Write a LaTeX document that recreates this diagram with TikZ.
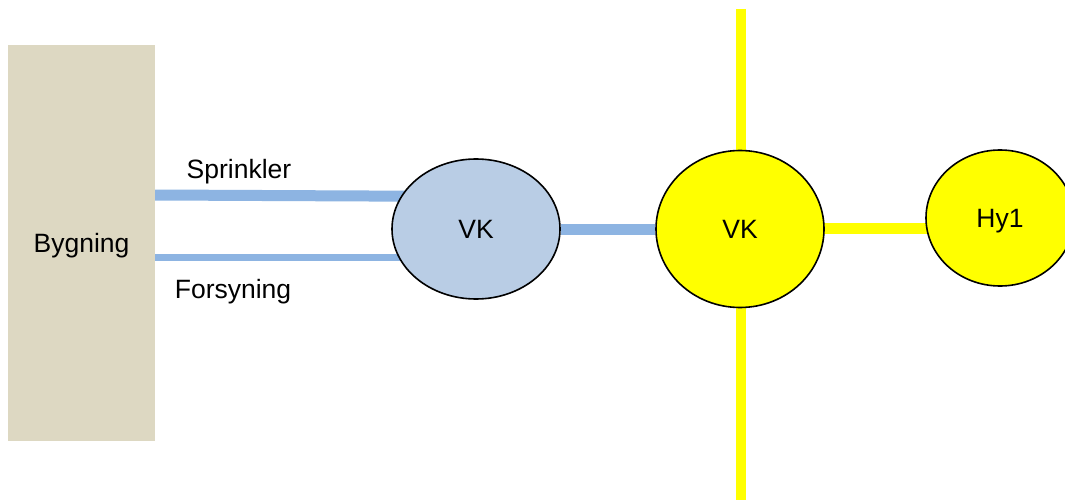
\documentclass[tikz,border=0pt]{standalone}
\usepackage{fontspec}
\setmainfont{Liberation Sans}
\usetikzlibrary{shapes.geometric,backgrounds}
\definecolor{wall}{HTML}{DDD8C2}
\definecolor{pipe}{HTML}{8DB4E2}
\definecolor{valvefill}{HTML}{B9CDE5}
\definecolor{hydrant}{HTML}{FFFF00}
\tikzset{
  txt/.style={font=\fontsize{26.5}{30}\selectfont, text depth=0pt},
  lbl/.style={txt, inner sep=0pt},
  house/.style={rectangle, fill=wall, minimum width=147pt, minimum height=396pt, inner sep=0pt, txt},
  valve/.style={ellipse, draw=black, line width=1.6pt, inner sep=0pt, txt},
  bluepipe/.style={draw=pipe, line width=#1},
  yellowpipe/.style={draw=hydrant, line width=#1},
}
\begin{document}
\begin{tikzpicture}[x=1pt,y=-1pt]
  \useasboundingbox (0,0) rectangle (1065,500);
  \clip (0,0) rectangle (1065,500);

  % building and valve chambers
  \node[house] (bld) at (81.5,243) {Bygning};
  \node[valve, fill=valvefill, minimum width=168pt, minimum height=140pt] (vk1) at (476,229) {VK};
  \node[valve, fill=hydrant, minimum width=168pt, minimum height=157pt] (vk2) at (740,229) {VK};
  \node[valve, fill=hydrant, minimum width=148pt, minimum height=136pt] (hy) at (1000,218) {Hy1};

  % free ends of the main line
  \coordinate (mainN) at (741,9);
  \coordinate (mainS) at (741,500);

  \begin{scope}[on background layer]
    \fill[white] (0,0) rectangle (1065,500);
    \draw[bluepipe=11pt] (bld.east |- 0,195) -- (vk1.center |- 0,196.5);
    \draw[bluepipe=7pt] (bld.east |- 0,257.5) -- (vk1.center |- 0,257.5);
    \draw[bluepipe=11pt] (vk1) -- (vk2);
    \draw[yellowpipe=10pt] (mainN) -- (mainS);
    \draw[yellowpipe=11pt] (vk2.center |- 0,228.5) -- (hy.center |- 0,228.5);
  \end{scope}

  % pipe labels
  \node[lbl] (sprlbl) at (239,169) {Sprinkler};
  \node[lbl] (forlbl) at (233,289) {Forsyning};
\end{tikzpicture}
\end{document}
